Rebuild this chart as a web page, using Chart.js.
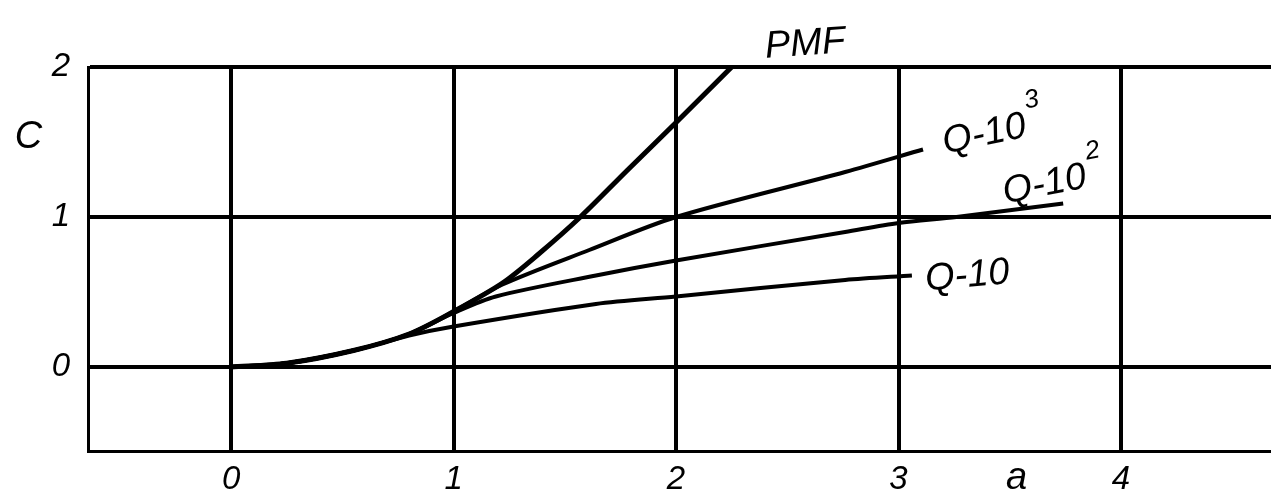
<!DOCTYPE html>
<html>
<head>
<meta charset="utf-8">
<script src="https://cdn.jsdelivr.net/npm/chart.js@4"></script>
<style>
  html, body { margin: 0; padding: 0; background: #fff; }
  #wrap { width: 1271px; height: 494px; }
</style>
</head>
<body>
<div id="wrap"><canvas id="chart"></canvas></div>
<script>
// ticks
var xTicks = [0, 1, 2, 3, 4];
var yTicks = [0, 1, 2];

// curves (a, C)
var pmfA = [0, 0.25, 0.55, 0.8, 1.0, 1.22, 1.38, 1.57, 1.78, 2.0, 2.25];
var pmfC = [0, 0.025, 0.11, 0.22, 0.37, 0.56, 0.75, 1.0, 1.31, 1.63, 2.0];

var q1000A = [0, 0.25, 0.55, 0.8, 1.0, 1.22, 1.61, 2.0, 2.76, 3.11];
var q1000C = [0, 0.025, 0.11, 0.22, 0.37, 0.55, 0.78, 1.0, 1.30, 1.45];

var q100A = [0, 0.25, 0.55, 0.8, 1.0, 1.19, 1.64, 2.0, 2.76, 3.0, 3.26, 3.74];
var q100C = [0, 0.025, 0.11, 0.22, 0.36, 0.47, 0.61, 0.71, 0.90, 0.96, 1.0, 1.09];

var q10A = [0, 0.25, 0.55, 0.8, 1.0, 1.64, 2.0, 2.76, 3.06];
var q10C = [0, 0.025, 0.11, 0.21, 0.27, 0.42, 0.47, 0.58, 0.61];

// hand labels: text, superscript, a, C, rotation (deg)
var curveLabels = [
  ["PMF", "", 2.58, 2.15, -4],
  ["Q-10", "3", 3.2, 1.49, -12],
  ["Q-10", "2", 3.47, 1.16, -11],
  ["Q-10", "", 3.12, 0.58, -5]
];
var axisTitles = [["C", -0.91, 1.53], ["a", 3.53, -0.74]];

function pts(xs, ys) {
  return xs.map(function(x, i) { return {x: x, y: ys[i]}; });
}

var handFont = "italic 38px 'Liberation Sans', 'DejaVu Sans', sans-serif";
var tickFont = { family: "'Liberation Sans', sans-serif", size: 33, style: 'italic' };

var labelPlugin = {
  id: 'handLabels',
  afterDraw: function(chart) {
    var ctx = chart.ctx, sx = chart.scales.x, sy = chart.scales.y;
    ctx.save();
    ctx.fillStyle = '#000';
    ctx.textBaseline = 'middle';
    curveLabels.forEach(function(l) {
      var px = sx.getPixelForValue(l[2]), py = sy.getPixelForValue(l[3]);
      ctx.save();
      ctx.translate(px, py);
      ctx.rotate(l[4] * Math.PI / 180);
      ctx.font = handFont;
      ctx.textAlign = l[0] == "PMF" ? 'center' : 'left';
      ctx.fillText(l[0], 0, 0);
      if (l[1]) {
        var w = ctx.measureText(l[0]).width;
        ctx.font = "italic 26px 'Liberation Sans', sans-serif";
        ctx.fillText(l[1], w + 4, -24);
      }
      ctx.restore();
    });
    ctx.font = handFont;
    ctx.textAlign = 'center';
    axisTitles.forEach(function(t) {
      ctx.fillText(t[0], sx.getPixelForValue(t[1]), sy.getPixelForValue(t[2]));
    });
    ctx.restore();
  }
};

function lineSet(label, data, width) {
  return {
    label: label,
    data: data,
    borderColor: '#000',
    borderWidth: width,
    pointRadius: 0,
    fill: false,
    tension: 0.3
  };
}

new Chart(document.getElementById('chart'), {
  type: 'line',
  data: {
    datasets: [
      lineSet('PMF', pts(pmfA, pmfC), 5),
      lineSet('Q-10^3', pts(q1000A, q1000C), 4),
      lineSet('Q-10^2', pts(q100A, q100C), 4),
      lineSet('Q-10', pts(q10A, q10C), 4)
    ]
  },
  options: {
    responsive: true,
    maintainAspectRatio: false,
    animation: false,
    layout: { padding: { top: 67, right: 0, left: 0, bottom: 0 } },
    plugins: { legend: { display: false }, tooltip: { enabled: false } },
    scales: {
      x: {
        type: 'linear',
        min: -0.643,
        max: 4.674,
        afterBuildTicks: function(axis) { axis.ticks = xTicks.map(function(v) { return {value: v}; }); },
        afterFit: function(axis) { axis.height = 43; },
        grid: { color: '#000', lineWidth: 4, drawTicks: false },
        border: { display: true, color: '#000', width: 3 },
        ticks: { color: '#000', padding: 9, font: tickFont }
      },
      y: {
        type: 'linear',
        min: -0.56,
        max: 2,
        afterBuildTicks: function(axis) { axis.ticks = yTicks.map(function(v) { return {value: v}; }); },
        afterFit: function(axis) { axis.width = 88; },
        grid: { color: '#000', lineWidth: 4, drawTicks: false },
        border: { display: true, color: '#000', width: 3 },
        ticks: { color: '#000', padding: 18, font: tickFont }
      }
    }
  },
  plugins: [labelPlugin]
});
</script>
</body>
</html>
